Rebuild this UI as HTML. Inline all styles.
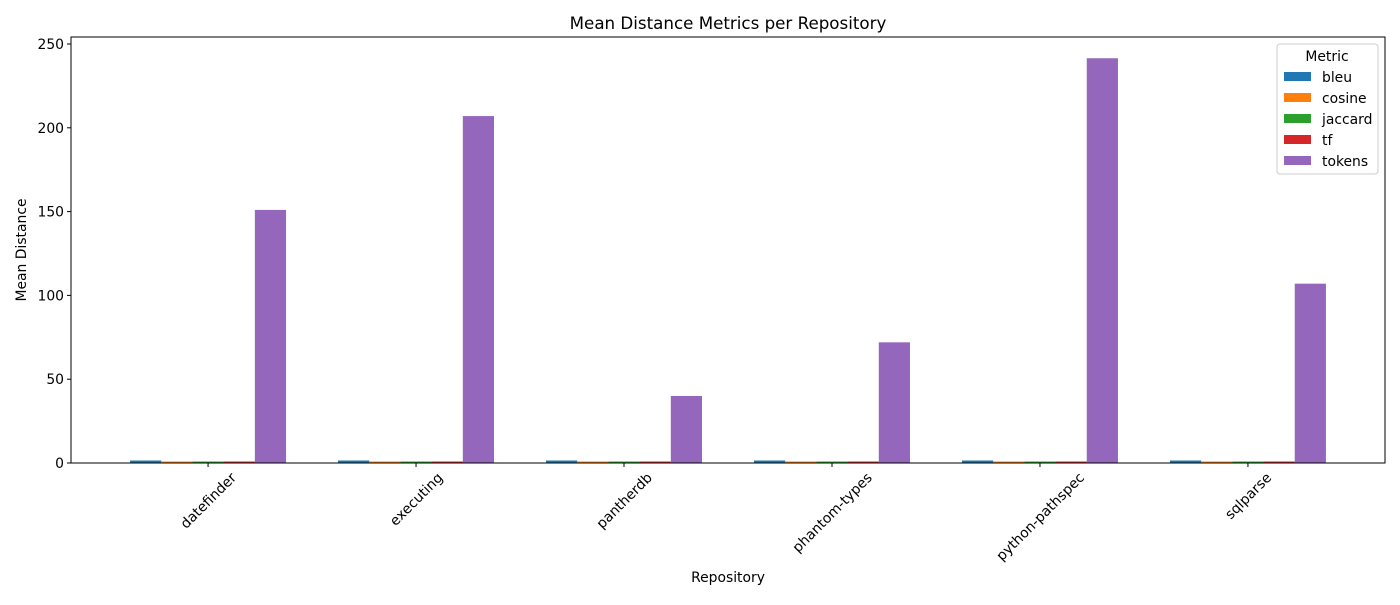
<!DOCTYPE html>
<html><head><meta charset="utf-8"><style>
body{margin:0;background:#fff;font-family:"Liberation Sans","DejaVu Sans",sans-serif;}
svg text{font-family:"DejaVu Sans","Liberation Sans",sans-serif;}
</style></head><body>
<svg id="c" width="1400" height="600" viewBox="0 0 1400 600"></svg>
<script>
const categories=["datefinder","executing","pantherdb","phantom-types","python-pathspec","sqlparse"];
const seriesNames=["bleu","cosine","jaccard","tf","tokens"];
const bleu=[1.5,1.5,1.5,1.5,1.5,1.5];
const cosine=[0.9,0.9,0.9,0.9,0.9,0.9];
const jaccard=[0.9,0.9,0.9,0.9,0.9,0.9];
const tf=[0.9,0.9,0.9,0.9,0.9,0.9];
const tokens=[151,207,40,72,241.5,107];
const yTicks=[0,50,100,150,200,250];
const colors=["#1f77b4","#ff7f0e","#2ca02c","#d62728","#9467bd"];
const series=[bleu,cosine,jaccard,tf,tokens];
const NS="http://www.w3.org/2000/svg";
const svg=document.getElementById('c');
const L=71,R=1385,T=37,B=463;
const unit=(R-L)/6.318;
const xScale=i=>L+(i+0.659)*unit;
const yScale=v=>B-v*(B-44)/250;
const bw=unit*0.75/5;
function mk(tag,attrs,txt){const e=document.createElementNS(NS,tag);for(const k in attrs)e.setAttribute(k,attrs[k]);if(txt!==undefined)e.textContent=txt;svg.appendChild(e);return e;}
series.forEach((s,si)=>{s.forEach((v,ci)=>{
 const x=xScale(ci)-bw*2.5+si*bw;
 const r=mk('rect',{x:x,y:yScale(v),width:bw,height:B-yScale(v),fill:colors[si]});
 
 
});});
const frame=mk('rect',{x:L,y:T,width:R-L,height:B-T,fill:'none',stroke:'#000','stroke-width':1});


yTicks.forEach(t=>{
 const y=yScale(t);
 mk('line',{x1:L-4,x2:L,y1:y,y2:y,stroke:'#000'});
 const tx=mk('text',{x:L-7,y:y+5,'text-anchor':'end','font-size':13.9},t);
 
 
});
categories.forEach((c,i)=>{
 const x=xScale(i);
 mk('line',{x1:x,x2:x,y1:B,y2:B+4,stroke:'#000'});
 const tx=mk('text',{x:0,y:0,'text-anchor':'middle','font-size':13.9},c);
 const w=tx.getComputedTextLength();
 const cy=470+(w+14)*0.7071/2;
 tx.setAttribute('transform',`translate(${x} ${cy}) rotate(-45) translate(0 5)`);
 
 
});
const title=mk('text',{x:728,y:29,'text-anchor':'middle','font-size':16.7},'Mean Distance Metrics per Repository');


const xt=mk('text',{x:728,y:582,'text-anchor':'middle','font-size':13.9},'Repository');


const yt=mk('text',{x:26,y:250,'text-anchor':'middle','font-size':13.9,transform:'rotate(-90 26 250)'},'Mean Distance');


const lg=mk('rect',{x:1277,y:44,width:101,height:130,rx:3,fill:'#fff',stroke:'#ccc'});


mk('text',{x:1327,y:61,'text-anchor':'middle','font-size':13.9},'Metric');
seriesNames.forEach((n,i)=>{
 const y=77+i*21;
 mk('rect',{x:1284,y:y-5,width:27,height:9,fill:colors[i]});
 const tx=mk('text',{x:1322,y:y+5,'font-size':13.9},n);
 
 
});
</script>
</body></html>
